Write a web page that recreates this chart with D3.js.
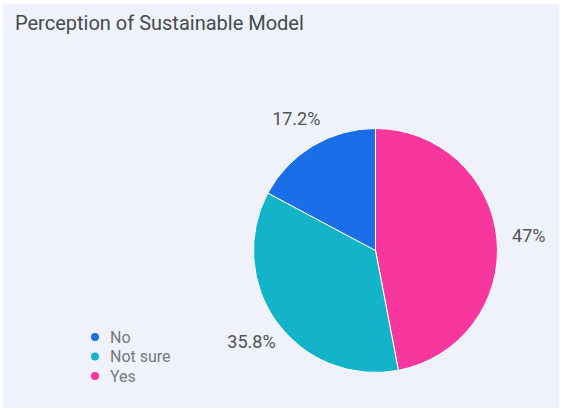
<!DOCTYPE html>
<html><head><meta charset="utf-8">
<script src="https://cdn.jsdelivr.net/npm/d3@7"></script>
<style>html,body{margin:0;padding:0;background:#fff;}svg{display:block;}</style>
</head><body>
<script>
const sliceLabels = ["Yes", "Not sure", "No"];
const sliceValues = [47, 35.8, 17.2];
const sliceColors = ["#f7379e", "#13b3c9", "#1a6fe8"];
const legendLabels = ["No", "Not sure", "Yes"];
const titleText = "Perception of Sustainable Model";

const W = 561, H = 410;
const FONT = "Roboto, sans-serif";
const svg = d3.select("body").append("svg").attr("width", W).attr("height", H);
svg.append("rect").attr("x", 3).attr("y", 4).attr("width", 556).attr("height", 404).attr("fill", "#eff2fa");

svg.append("text").attr("x", 15).attr("y", 29.5).text(titleText)
  .attr("font-family", FONT).attr("font-size", 20).attr("fill", "#474a4f");

const cx = 375.5, cy = 250.5, R = 122;
const color = d3.scaleOrdinal().domain(sliceLabels).range(sliceColors);
const pie = d3.pie().sort(null).value(d => d.v);
const data = pie(sliceLabels.map((l, i) => ({l, v: sliceValues[i]})));
const arc = d3.arc().innerRadius(0).outerRadius(R);
const labelArc = d3.arc().innerRadius(154).outerRadius(154);
const g = svg.append("g").attr("transform", `translate(${cx},${cy})`);
g.selectAll("path").data(data).join("path")
  .attr("d", arc).attr("fill", d => color(d.data.l))
  .attr("stroke", "#ffffff").attr("stroke-width", 1);
g.selectAll("text").data(data).join("text")
  .attr("transform", d => `translate(${labelArc.centroid(d)})`)
  .attr("text-anchor", "middle").attr("dy", "0.35em")
  .attr("font-family", FONT).attr("font-size", 18).attr("fill", "#505357")
  .text(d => d3.format(".3~")(d.data.v) + "%");

const lg = svg.append("g").attr("transform", "translate(95,337)");
const items = lg.selectAll("g").data(legendLabels).join("g")
  .attr("transform", (d, i) => `translate(0,${i * 19.5})`);
items.append("circle").attr("r", 4).attr("fill", d => color(d));
items.append("text").attr("x", 15).attr("dy", "0.35em")
  .attr("font-family", FONT).attr("font-size", 16).attr("fill", "#76797e")
  .text(d => d);
</script>
</body></html>
